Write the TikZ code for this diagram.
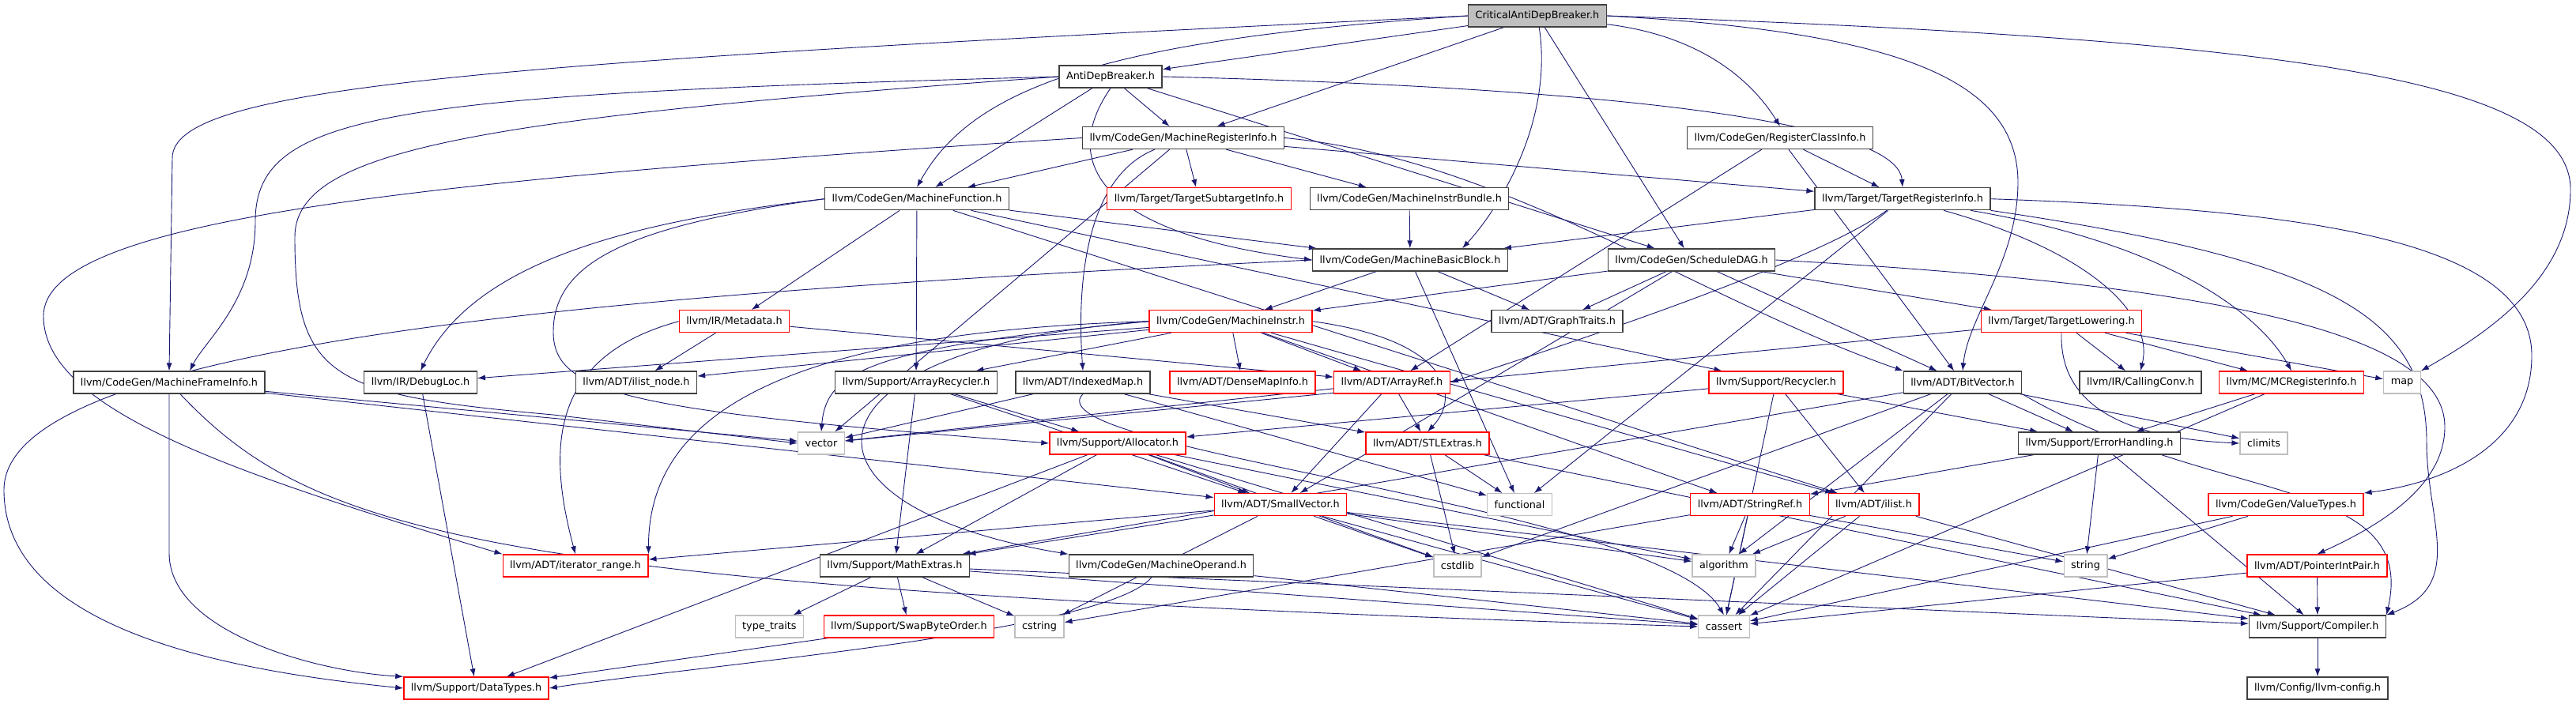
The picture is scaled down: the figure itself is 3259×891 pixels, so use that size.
\documentclass[tikz,border=0pt]{standalone}
\usepackage{fontspec}
\setmainfont{DejaVu Sans}
\usetikzlibrary{arrows.meta,backgrounds,calc}
\definecolor{doxyedge}{HTML}{191970}
\definecolor{doxygray}{HTML}{BFBFBF}
\newcommand{\graphfont}{\fontsize{12.8}{15}\selectfont}
\tikzset{
  file/.style={draw=black!75, fill=white, line width=1.3pt, font=\graphfont, inner xsep=9pt, inner ysep=0pt, minimum height=28pt},
  trunc/.style={file, draw=red},
  sysfile/.style={file, draw=doxygray},
  mainfile/.style={file, fill=doxygray},
  dep/.style={-{Latex[length=10pt,width=7pt]}, doxyedge, line width=0.9pt}
}

\begin{document}
\begin{tikzpicture}[x=1pt,y=-1pt]
  \useasboundingbox (0,0) rectangle (3259,891);

  % rows of files
  \node[mainfile] (cadb) at (1945,20) {CriticalAntiDepBreaker.h};
  \node[file] (adb) at (1405,97) {AntiDepBreaker.h};
  \node[file] (mri) at (1497,174.5) {llvm/CodeGen/MachineRegisterInfo.h};
  \node[file] (rci) at (2252,174.5) {llvm/CodeGen/RegisterClassInfo.h};
  \node[file] (mf) at (1160,251.7) {llvm/CodeGen/MachineFunction.h};
  \node[trunc] (tsi) at (1517,251.7) {llvm/Target/TargetSubtargetInfo.h};
  \node[file] (mib) at (1783,251.7) {llvm/CodeGen/MachineInstrBundle.h};
  \node[file] (tri) at (2407,251.7) {llvm/Target/TargetRegisterInfo.h};
  \node[file] (mbb) at (1784,329) {llvm/CodeGen/MachineBasicBlock.h};
  \node[file] (sdag) at (2140,329) {llvm/CodeGen/ScheduleDAG.h};
  \node[trunc] (md) at (929,406.7) {llvm/IR/Metadata.h};
  \node[trunc] (mi) at (1557,406.7) {llvm/CodeGen/MachineInstr.h};
  \node[file] (gt) at (1970,406.7) {llvm/ADT/GraphTraits.h};
  \node[trunc] (tl) at (2608,406.7) {llvm/Target/TargetLowering.h};
  \node[file] (mfi) at (214,484) {llvm/CodeGen/MachineFrameInfo.h};
  \node[file] (dl) at (532,484) {llvm/IR/DebugLoc.h};
  \node[file] (iln) at (805,484) {llvm/ADT/ilist\_node.h};
  \node[file] (ar) at (1159,484) {llvm/Support/ArrayRecycler.h};
  \node[file] (im) at (1370,484) {llvm/ADT/IndexedMap.h};
  \node[trunc] (dmi) at (1572,484) {llvm/ADT/DenseMapInfo.h};
  \node[trunc] (aref) at (1761,484) {llvm/ADT/ArrayRef.h};
  \node[trunc] (rec) at (2247,484) {llvm/Support/Recycler.h};
  \node[file] (bv) at (2483,484) {llvm/ADT/BitVector.h};
  \node[file] (cc) at (2708,484) {llvm/IR/CallingConv.h};
  \node[trunc] (mcri) at (2899,484) {llvm/MC/MCRegisterInfo.h};
  \node[sysfile] (map) at (3039,484) {map};
  \node[sysfile] (vec) at (1039,561) {vector};
  \node[trunc] (alloc) at (1414,561) {llvm/Support/Allocator.h};
  \node[trunc] (stl) at (1806,561) {llvm/ADT/STLExtras.h};
  \node[file] (eh) at (2656,561) {llvm/Support/ErrorHandling.h};
  \node[sysfile] (climits) at (2864,561) {climits};
  \node[trunc] (sv) at (1620,638.7) {llvm/ADT/SmallVector.h};
  \node[sysfile] (func) at (1922.5,638.7) {functional};
  \node[trunc] (sref) at (2214,638.7) {llvm/ADT/StringRef.h};
  \node[trunc] (ilist) at (2370.5,638.7) {llvm/ADT/ilist.h};
  \node[trunc] (vt) at (2892,638.7) {llvm/CodeGen/ValueTypes.h};
  \node[trunc] (itr) at (728,716) {llvm/ADT/iterator\_range.h};
  \node[file] (me) at (1132,716) {llvm/Support/MathExtras.h};
  \node[file] (mo) at (1469,716) {llvm/CodeGen/MachineOperand.h};
  \node[sysfile] (cstdlib) at (1844,716) {cstdlib};
  \node[sysfile] (algorithm) at (2181,716) {algorithm};
  \node[sysfile] (str) at (2638.5,716) {string};
  \node[trunc] (pip) at (2931.5,716) {llvm/ADT/PointerIntPair.h};
  \node[sysfile] (tt) at (973.4,793) {type\_traits};
  \node[trunc] (sbo) at (1150,793) {llvm/Support/SwapByteOrder.h};
  \node[sysfile] (cstring) at (1315,793) {cstring};
  \node[sysfile] (cassert) at (2181,793) {cassert};
  \node[file] (comp) at (2932,793) {llvm/Support/Compiler.h};
  \node[trunc] (dt) at (602.5,871) {llvm/Support/DataTypes.h};
  \node[file] (cfg) at (2932,871) {llvm/Config/llvm-config.h};

  \begin{scope}[on background layer]
    \fill[white] (0,0) rectangle (3259,891);

    % CriticalAntiDepBreaker.h
    \draw[dep] (cadb) -- (adb);
    \draw[dep] (cadb.west) .. controls (600,80) and (218,110) .. (218,200) -- (mfi.north);
    \draw[dep] (cadb.west) .. controls (1400,50) and (1230,110) .. (mf.north);
    \draw[dep] (cadb) -- (mri);
    \draw[dep] (cadb) .. controls (1965,150) and (1900,260) .. ($(mbb.north)+(66,0)$);
    \draw[dep] (cadb) .. controls (2150,45) and (2215,100) .. (rci.north);
    \draw[dep] (cadb) -- (sdag);
    \draw[dep] (cadb.east) .. controls (2400,40) and (2552,100) .. (2553,230) .. controls (2553,330) and (2490,400) .. (bv.north);
    \draw[dep] (cadb.east) .. controls (2900,50) and (3252,100) .. (3252,240) .. controls (3252,350) and (3150,420) .. (map.north east);

    % AntiDepBreaker.h
    \draw[dep] (adb.south) .. controls (1330,220) and (1420,300) .. (mbb.west);
    \draw[dep] (adb.west) .. controls (500,120) and (323,140) .. (323,280) .. controls (323,380) and (260,430) .. ($(mfi.north)+(26,0)$);
    \draw[dep] (adb) -- (mf);
    \draw[dep] (adb) -- (mri);
    \draw[dep] (adb) -- (sdag);
    \draw[dep] (adb.east) .. controls (2000,110) and (2400,150) .. (tri.north);
    \draw[dep] (adb.west) .. controls (600,150) and (373,190) .. (373,300) .. controls (373,480) and (420,500) .. (700,525) -- (vec.west);

    % MachineRegisterInfo.h
    \draw[dep] (mri) -- (mf);
    \draw[dep] (mri) .. controls (1360,230) and (1365,400) .. (im.north);
    \draw[dep] (mri) -- (tsi);
    \draw[dep] (mri) -- (mib);
    \draw[dep] (mri) -- (tri);
    \draw[dep] (mri.east) .. controls (1900,200) and (2150,380) .. (bv.north west);
    \draw[dep] (mri.west) .. controls (500,230) and (55,280) .. (55,400) .. controls (55,520) and (300,600) .. (itr.north west);
    \draw[dep] (mri) -- (vec);

    % MachineFunction.h
    \draw[dep] (mf.west) .. controls (800,280) and (600,330) .. (dl.north);
    \draw[dep] (mf) -- (md);
    \draw[dep] (mf) -- (ar);
    \draw[dep] (mf) -- (mbb);
    \draw[dep] (mf) -- (rec);
    \draw[dep] (mf) -- (ilist);
    \draw[dep] (mf.west) .. controls (800,285) and (700,330) .. (700,420) .. controls (700,500) and (800,520) .. (alloc.west);

    % RegisterClassInfo.h and MachineInstrBundle.h
    \draw[dep] (rci) -- (aref);
    \draw[dep] (rci) -- (bv);
    \draw[dep] (rci) -- (tri);
    \draw[dep] (mib) -- (mbb);

    % TargetRegisterInfo.h
    \draw[dep] (tri) -- (mbb);
    \draw[dep] (tri) .. controls (2300,330) and (2000,430) .. (aref.east);
    \draw[dep] (tri) -- (func);
    \draw[dep] (tri) .. controls (2650,320) and (2725,400) .. (cc.north);
    \draw[dep] (tri) .. controls (2750,310) and (2860,400) .. (mcri.north);
    \draw[dep] (tri.south east) .. controls (2950,330) and (3070,400) .. (3070,560) .. controls (3070,660) and (3120,740) .. (comp.north east);
    \draw[dep] (tri.east) .. controls (2900,265) and (3203,300) .. (3203,450) .. controls (3203,560) and (3100,610) .. (vt.north east);

    % MachineBasicBlock.h
    \draw[dep] (mbb) -- (mi);
    \draw[dep] (mbb) -- (func);
    \draw[dep] (mbb) -- (gt);
    \draw[dep] (mbb.west) .. controls (800,370) and (5,430) .. (5,620) .. controls (5,800) and (300,850) .. (dt.west);

    % ScheduleDAG.h
    \draw[dep] (sdag) -- (mi);
    \draw[dep] (sdag) -- (gt);
    \draw[dep] (sdag) -- (sv);
    \draw[dep] (sdag) -- (bv);
    \draw[dep] (sdag) -- (tl);
    \draw[dep] (sdag.east) .. controls (2800,360) and (3093,420) .. (3093,540) .. controls (3093,620) and (3000,670) .. (pip.north);

    % Metadata.h
    \draw[dep] (md) -- (iln);
    \draw[dep] (md) -- (aref);
    \draw[dep] (md.west) .. controls (700,450) and (690,560) .. (itr.north);

    % MachineInstr.h
    \draw[dep] (mi) -- (dl);
    \draw[dep] (mi) -- (iln);
    \draw[dep] (mi.west) .. controls (1000,420) and (820,520) .. (itr.north east);
    \draw[dep] (mi.west) .. controls (1100,440) and (1045,470) .. (vec.north);
    \draw[dep] (mi.west) .. controls (1000,440) and (980,640) .. (mo.north west);
    \draw[dep] (mi) -- (ar);
    \draw[dep] (mi) -- (dmi);
    \draw[dep] (mi) -- (aref);
    \draw[dep] (mi.east) .. controls (1830,430) and (1850,500) .. (stl.north);
    \draw[dep] (mi) -- (sref);
    \draw[dep] (mi) -- (ilist);

    % TargetLowering.h
    \draw[dep] (tl) -- (vec);
    \draw[dep] (tl) -- (cc);
    \draw[dep] (tl) -- (mcri);
    \draw[dep] (tl) -- (map);
    \draw[dep] (tl.south) .. controls (2605,520) and (2700,555) .. (climits.west);

    % MachineFrameInfo.h, DebugLoc.h, ArrayRecycler.h
    \draw[dep] (mfi.south) -- (214,700) .. controls (214,800) and (400,850) .. (dt.north west);
    \draw[dep] (mfi) .. controls (400,680) and (620,745) .. (cassert.west);
    \draw[dep] (mfi) -- (vec);
    \draw[dep] (mfi) -- (sv);
    \draw[dep] (dl) -- (dt);
    \draw[dep] (ar) -- (sv);
    \draw[dep] (ar) -- (alloc);
    \draw[dep] (ar) -- (me);

    % IndexedMap.h, ArrayRef.h, Recycler.h
    \draw[dep] (im) -- (stl);
    \draw[dep] (im) -- (vec);
    \draw[dep] (im.south) .. controls (1300,570) and (2100,640) .. (cassert.north);
    \draw[dep] (im) -- (func);
    \draw[dep] (aref) -- (sv);
    \draw[dep] (aref) -- (stl);
    \draw[dep] (aref) -- (vec);
    \draw[dep] (rec) -- (alloc);
    \draw[dep] (rec) -- (ilist);
    \draw[dep] (rec) -- (eh);
    \draw[dep] (rec) -- (cassert);

    % BitVector.h, MCRegisterInfo.h
    \draw[dep] (bv.south east) .. controls (2800,640) and (3060,600) .. (comp.north east);
    \draw[dep] (bv) -- (eh);
    \draw[dep] (bv) -- (me);
    \draw[dep] (bv) -- (algorithm);
    \draw[dep] (bv) -- (cassert);
    \draw[dep] (bv) -- (climits);
    \draw[dep] (bv) -- (cstdlib);
    \draw[dep] (mcri) -- (eh);
    \draw[dep] (mcri) -- (cassert);

    % Allocator.h, STLExtras.h, ErrorHandling.h
    \draw[dep] (alloc) -- (sv);
    \draw[dep] (alloc) -- (me);
    \draw[dep] (alloc) -- (dt);
    \draw[dep] (alloc) -- (cassert);
    \draw[dep] (alloc) -- (cstdlib);
    \draw[dep] (alloc) -- (algorithm);
    \draw[dep] (stl) -- (func);
    \draw[dep] (stl) -- (cstdlib);
    \draw[dep] (stl) -- (comp);
    \draw[dep] (eh) -- (sref);
    \draw[dep] (eh) -- (str);
    \draw[dep] (eh) -- (comp);

    % SmallVector.h, StringRef.h, ilist.h, ValueTypes.h
    \draw[dep] (sv) -- (itr);
    \draw[dep] (sv) -- (me);
    \draw[dep] (sv) -- (cstring);
    \draw[dep] (sv) -- (cassert);
    \draw[dep] (sv) -- (cstdlib);
    \draw[dep] (sv) -- (algorithm);
    \draw[dep] (sv) -- (comp);
    \draw[dep] (sref) -- (cstring);
    \draw[dep] (sref) -- (algorithm);
    \draw[dep] (sref) -- (cassert);
    \draw[dep] (sref) -- (str);
    \draw[dep] (ilist) -- (algorithm);
    \draw[dep] (ilist) -- (cassert);
    \draw[dep] (ilist) -- (comp);
    \draw[dep] (vt) -- (str);
    \draw[dep] (vt) -- (cassert);

    % MathExtras.h and the bottom rows
    \draw[dep] (me) -- (tt);
    \draw[dep] (me) -- (sbo);
    \draw[dep] (me) -- (cstring);
    \draw[dep] (me) -- (cassert);
    \draw[dep] (me) -- (comp);
    \draw[dep] (mo) .. controls (1400,800) and (900,840) .. (dt.east);
    \draw[dep] (mo) -- (cassert);
    \draw[dep] (pip) -- (cassert);
    \draw[dep] (pip) -- (comp);
    \draw[dep] (sbo) -- (dt);
    \draw[dep] (comp) -- (cfg);
  \end{scope}
\end{tikzpicture}
\end{document}
